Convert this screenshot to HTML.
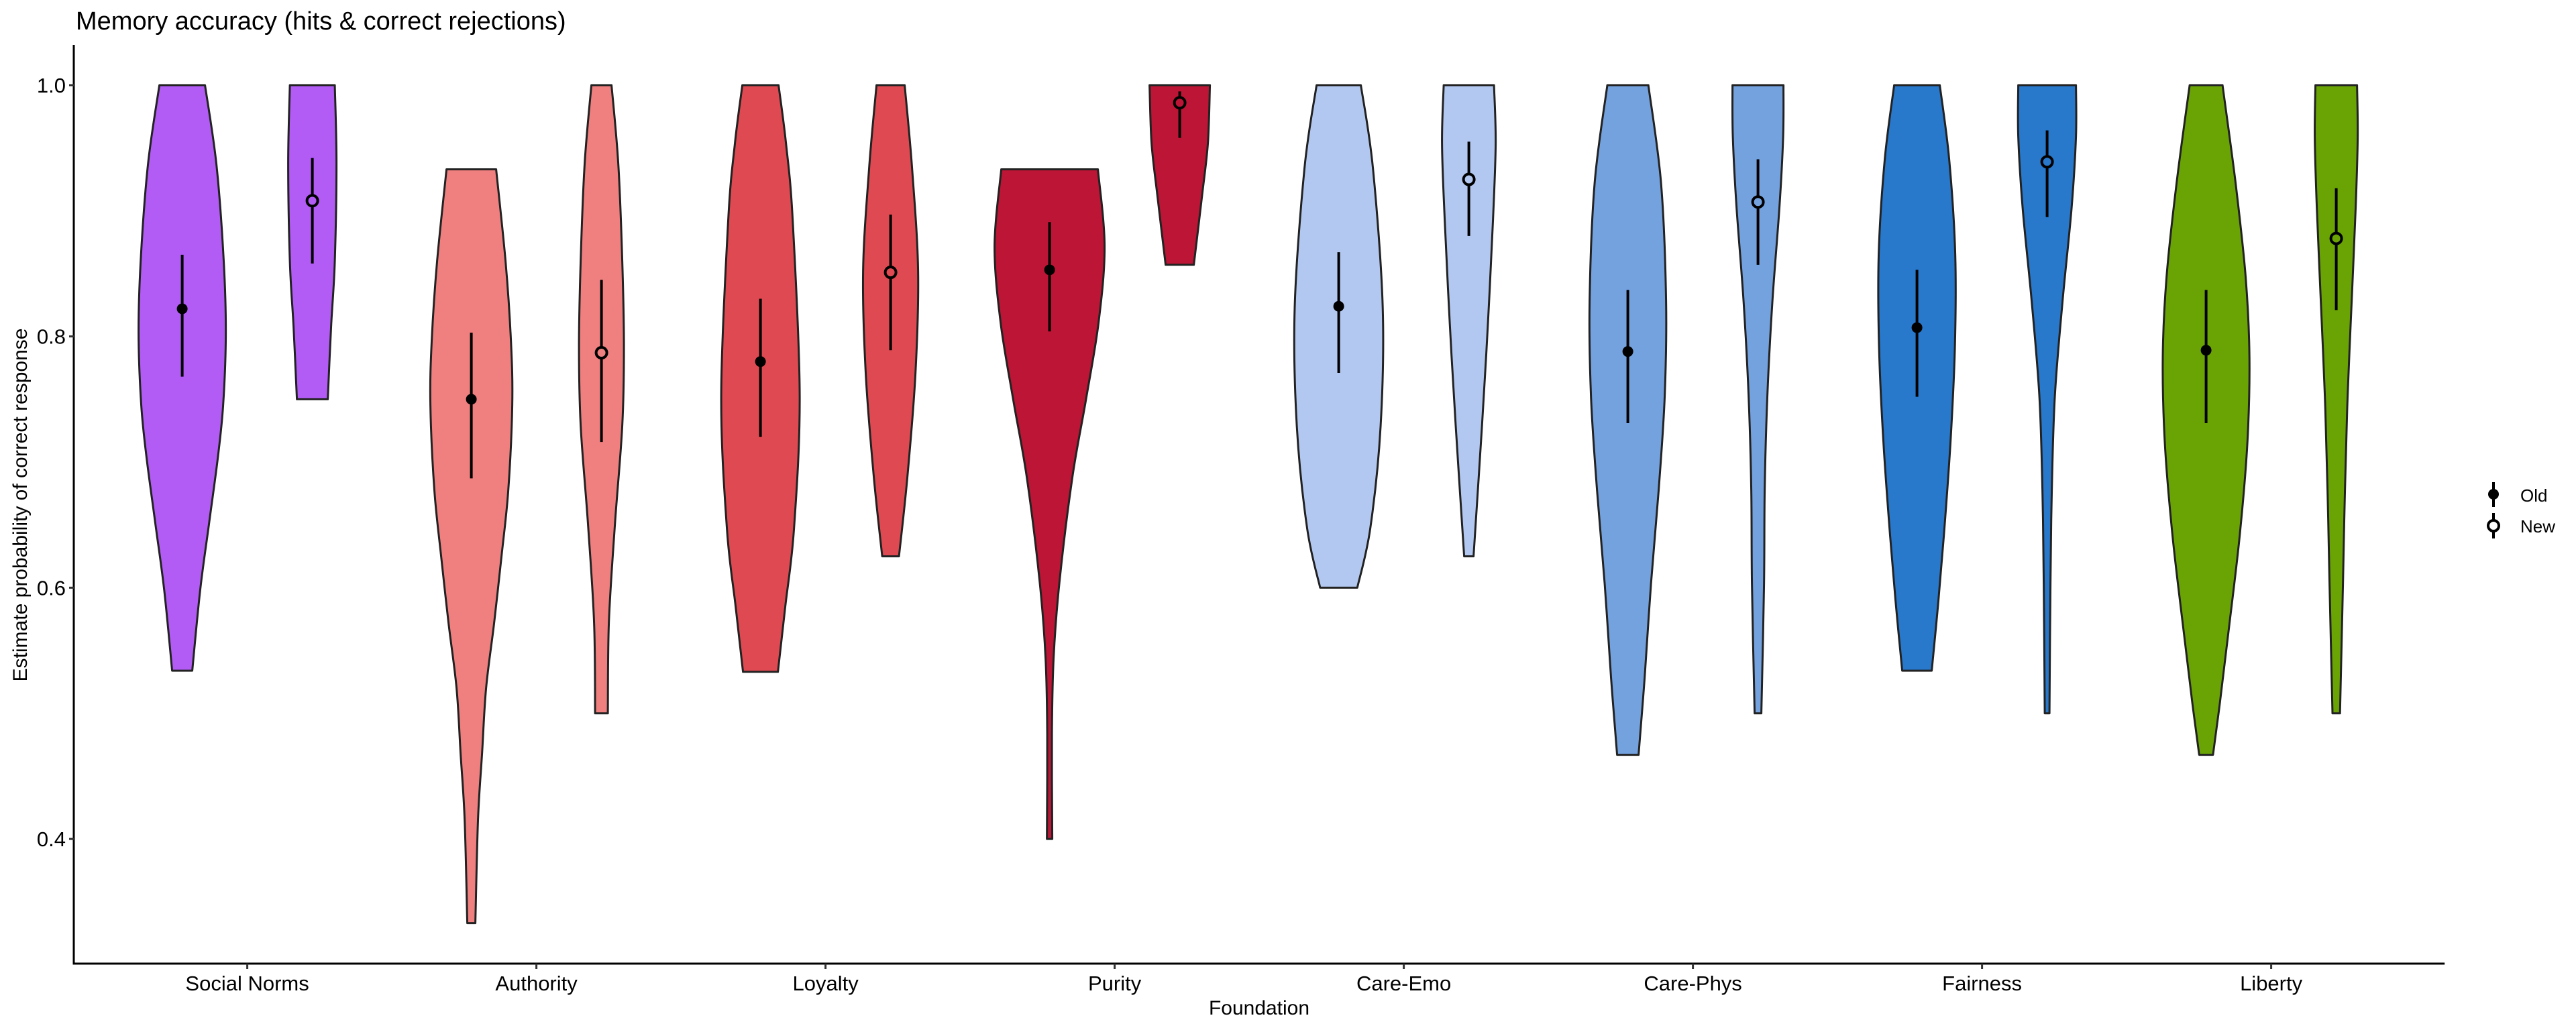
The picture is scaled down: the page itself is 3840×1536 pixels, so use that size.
<!DOCTYPE html>
<html><head><meta charset="utf-8"><title>Memory accuracy</title>
<style>
html,body{margin:0;padding:0;background:#fff;}
svg{display:block;font-family:"Liberation Sans",Arial,sans-serif;}
</style></head>
<body>
<svg id="chart" width="3840" height="1536" viewBox="0 0 3840 1536" xmlns="http://www.w3.org/2000/svg">
<rect width="3840" height="1536" fill="#fff"/>
<text x="113" y="44" font-size="38" fill="#000">Memory accuracy (hits &amp; correct rejections)</text>
<g id="violins"></g>
<g id="axes"></g>
<text transform="translate(40,753) rotate(-90)" text-anchor="middle" font-size="30" fill="#000">Estimate probability of correct response</text>
<text x="1877" y="1513" text-anchor="middle" font-size="30" fill="#000">Foundation</text>
<g>
  <g>
    <line x1="3717" y1="719" x2="3717" y2="756" stroke="#000" stroke-width="4"/>
    <circle cx="3717" cy="737" r="8" fill="#000"/>
    <text x="3757" y="748" font-size="26" fill="#000">Old</text>
  </g>
  <g>
    <line x1="3717" y1="765" x2="3717" y2="803" stroke="#000" stroke-width="4"/>
    <circle cx="3717" cy="784" r="8" fill="#fff" stroke="#000" stroke-width="4"/>
    <text x="3757" y="794" font-size="26" fill="#000">New</text>
  </g>
</g>
</svg>
<script>
const categories = ["Social Norms","Authority","Loyalty","Purity","Care-Emo","Care-Phys","Fairness","Liberty"];
const groups = ["Old","New"];
const yTicks = [0.4,0.6,0.8,1.0];
const yTickLabels = ["0.4","0.6","0.8","1.0"];
const colors = ["#b25cf5","#f08080","#df4a52","#bd1535","#b3c8f0","#74a2df","#2878cc","#6aa404"];
// point estimates and 95% CI, order: [Old, New] per category
const estOld = [0.822,0.750,0.780,0.853,0.824,0.788,0.807,0.789];
const loOld  = [0.768,0.687,0.720,0.804,0.771,0.731,0.752,0.731];
const hiOld  = [0.865,0.803,0.830,0.891,0.867,0.837,0.853,0.837];
const estNew = [0.908,0.787,0.851,0.986,0.925,0.907,0.939,0.878];
const loNew  = [0.858,0.716,0.789,0.958,0.880,0.857,0.895,0.821];
const hiNew  = [0.942,0.845,0.897,0.995,0.955,0.941,0.964,0.918];
// violin density profiles: levels (response value) and relative widths
const levOld = [
 [1.0,0.937,0.859,0.801,0.745,0.703,0.651,0.599,0.534],
 [0.933,0.86,0.797,0.745,0.677,0.625,0.572,0.52,0.468,0.416,0.333],
 [1.0,0.954,0.893,0.753,0.647,0.585,0.533],
 [0.933,0.872,0.811,0.749,0.688,0.606,0.544,0.483,0.40],
 [1.0,0.934,0.823,0.729,0.647,0.60],
 [1.0,0.922,0.828,0.753,0.678,0.603,0.528,0.467],
 [1.0,0.941,0.866,0.791,0.716,0.641,0.584,0.534],
 [1.0,0.922,0.847,0.783,0.716,0.641,0.566,0.509,0.467]
];
const denOld = [
 [0.34,0.51,0.62,0.65,0.61,0.53,0.40,0.27,0.15],
 [0.37,0.51,0.59,0.61,0.55,0.45,0.34,0.22,0.16,0.10,0.06],
 [0.27,0.38,0.48,0.585,0.50,0.37,0.26],
 [0.72,0.82,0.73,0.54,0.34,0.15,0.06,0.035,0.04],
 [0.33,0.51,0.656,0.625,0.47,0.277],
 [0.306,0.495,0.57,0.55,0.46,0.345,0.25,0.16],
 [0.34,0.48,0.57,0.565,0.50,0.40,0.31,0.22],
 [0.245,0.44,0.59,0.646,0.616,0.50,0.336,0.207,0.103]
];
const levNew = [
 [1.0,0.938,0.86,0.808,0.75],
 [1.0,0.938,0.86,0.792,0.729,0.65,0.572,0.50],
 [1.0,0.934,0.852,0.77,0.688,0.625],
 [1.0,0.954,0.913,0.857],
 [1.0,0.954,0.893,0.811,0.729,0.625],
 [1.0,0.959,0.903,0.828,0.753,0.678,0.603,0.50],
 [1.0,0.959,0.903,0.828,0.753,0.678,0.603,0.50],
 [1.0,0.959,0.903,0.828,0.753,0.678,0.603,0.50]
];
const denNew = [
 [0.335,0.36,0.335,0.28,0.23],
 [0.15,0.25,0.31,0.335,0.31,0.20,0.11,0.095],
 [0.21,0.32,0.41,0.37,0.25,0.125],
 [0.45,0.42,0.335,0.21],
 [0.375,0.40,0.36,0.285,0.196,0.07],
 [0.38,0.375,0.32,0.215,0.14,0.10,0.09,0.05],
 [0.43,0.43,0.366,0.23,0.116,0.07,0.05,0.035],
 [0.31,0.32,0.29,0.23,0.17,0.13,0.10,0.056]
];

const NS = "http://www.w3.org/2000/svg";
const X0 = 110, STEP = 431, DODGE = 97, WSCALE = 100;
function xCat(i){ return X0 + (0.6 + i) * STEP; }
function yVal(v){ return 127 + (1 - v) * 1873.5; }
function mk(tag, attrs, parent){
  const e = document.createElementNS(NS, tag);
  for (const k in attrs) e.setAttribute(k, attrs[k]);
  parent.appendChild(e); return e;
}
function smoothSide(pts){
  // Catmull-Rom through pts [x,y]; returns path segments (excluding initial M)
  let d = "";
  for (let i = 0; i < pts.length - 1; i++){
    const p0 = pts[Math.max(0,i-1)], p1 = pts[i], p2 = pts[i+1], p3 = pts[Math.min(pts.length-1,i+2)];
    const c1x = p1[0] + (p2[0]-p0[0])/6, c1y = p1[1] + (p2[1]-p0[1])/6;
    const c2x = p2[0] - (p3[0]-p1[0])/6, c2y = p2[1] - (p3[1]-p1[1])/6;
    d += ` C${c1x.toFixed(1)},${c1y.toFixed(1)} ${c2x.toFixed(1)},${c2y.toFixed(1)} ${p2[0].toFixed(1)},${p2[1].toFixed(1)}`;
  }
  return d;
}
const vg = document.getElementById("violins");
categories.forEach((cat, i) => {
  [0,1].forEach(g => {
    const cx = xCat(i) + (g === 0 ? -DODGE : DODGE);
    const lev = g === 0 ? levOld[i] : levNew[i];
    const den = g === 0 ? denOld[i] : denNew[i];
    const right = lev.map((v,k) => [cx + den[k]*WSCALE, yVal(v)]);
    const left = lev.map((v,k) => [cx - den[k]*WSCALE, yVal(v)]).reverse();
    let d = `M${left[left.length-1][0].toFixed(1)},${left[left.length-1][1].toFixed(1)} L${right[0][0].toFixed(1)},${right[0][1].toFixed(1)}`;
    d += smoothSide(right);
    d += ` L${left[0][0].toFixed(1)},${left[0][1].toFixed(1)}`;
    d += smoothSide(left) + " Z";
    const p = mk("path", {d: d, fill: colors[i], stroke: "#222", "stroke-width": 3, "stroke-linejoin":"round"}, vg);
    
    
    const est = g === 0 ? estOld[i] : estNew[i];
    const lo = g === 0 ? loOld[i] : loNew[i];
    const hi = g === 0 ? hiOld[i] : hiNew[i];
    const l = mk("line", {x1: cx, x2: cx, y1: yVal(lo), y2: yVal(hi), stroke: "#000", "stroke-width": 4}, vg);
    
    
    const c = mk("circle", g === 0 ? {cx: cx, cy: yVal(est), r: 8, fill: "#000"} : {cx: cx, cy: yVal(est), r: 8, fill: colors[i], stroke: "#000", "stroke-width": 4}, vg);
    
    
  });
});
const ag = document.getElementById("axes");
const yAxis = mk("line", {x1: X0, x2: X0, y1: 67, y2: 1438, stroke: "#000", "stroke-width": 3}, ag);


const xAxis = mk("line", {x1: X0 - 1.5, x2: X0 + 8.2*STEP, y1: 1437, y2: 1437, stroke: "#000", "stroke-width": 3}, ag);


yTicks.forEach((v, k) => {
  const t = mk("line", {x1: X0 - 7, x2: X0, y1: yVal(v), y2: yVal(v), stroke: "#333", "stroke-width": 3}, ag);
  
  
  const tx = mk("text", {x: X0 - 12, y: yVal(v) + 11, "text-anchor": "end", "font-size": 31, fill: "#000"}, ag);
  tx.textContent = yTickLabels[k];
  
  
});
categories.forEach((cat, i) => {
  const t = mk("line", {x1: xCat(i), x2: xCat(i), y1: 1437, y2: 1445, stroke: "#333", "stroke-width": 3}, ag);
  
  
  const tx = mk("text", {x: xCat(i), y: 1477, "text-anchor": "middle", "font-size": 31, fill: "#000"}, ag);
  tx.textContent = cat;
  
  
});
</script>
</body></html>
